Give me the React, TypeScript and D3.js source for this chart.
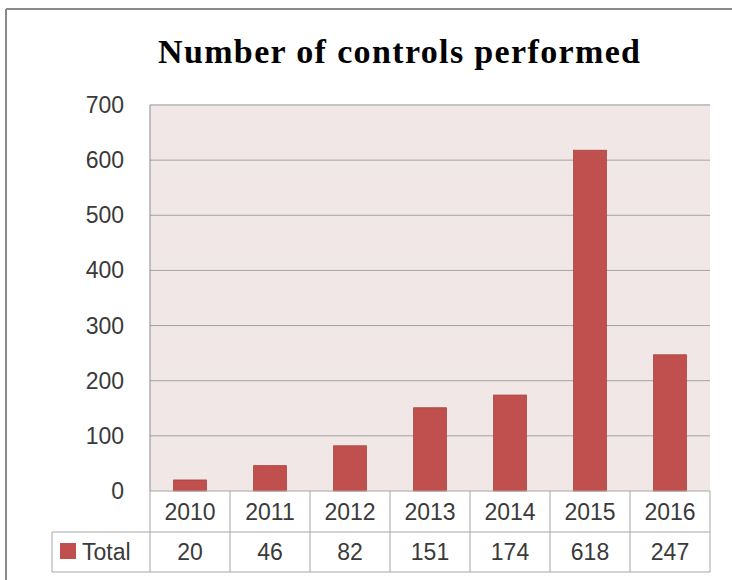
import React from "react";
import * as d3 from "d3";

const years = ["2010", "2011", "2012", "2013", "2014", "2015", "2016"];
const totals = [20, 46, 82, 151, 174, 618, 247];
const yTicks = [0, 100, 200, 300, 400, 500, 600, 700];
const seriesName = "Total";
const title = "Number of controls performed";

export default function App() {
  const W = 732, H = 580;
  const plot = { left: 150, right: 710, top: 105, bottom: 491 };
  const x = d3.scaleBand<string>().domain(years).range([plot.left, plot.right]).padding(0);
  const y = d3.scaleLinear().domain([0, 700]).range([plot.bottom, plot.top]);
  const bw = x.bandwidth() * 0.41;
  const row1 = 532, row2 = 572, tableLeft = 52;
  const sans = "'Liberation Sans', Arial, sans-serif";
  const gridColor = "#a3a3a3";
  const tableColor = "#a6a6a6";
  const fs = 23;
  return (
    <svg width={W} height={H} style={{ position: "absolute", left: 0, top: 0 }}>
      <rect x={0} y={0} width={W} height={H} fill="#fff" />
      {/* outer border */}
      <line x1={6} y1={9} x2={W} y2={9} stroke="#8a8a8a" strokeWidth={2} />
      <line x1={6} y1={9} x2={6} y2={H} stroke="#8a8a8a" strokeWidth={2} />
      <text x={158} y={63} textLength={482} lengthAdjust="spacing" fontFamily="'Liberation Serif', 'Times New Roman', serif" fontWeight="bold" fontSize={34} fill="#000">{title}</text>
      {/* plot area */}
      <rect x={plot.left} y={plot.top} width={plot.right - plot.left} height={plot.bottom - plot.top} fill="#f2e7e7" />
      {yTicks.map(t => (
        <g key={t}>
          {t > 0 && <line x1={plot.left} x2={plot.right} y1={y(t)} y2={y(t)} stroke={t === 700 ? "#c4c4c4" : gridColor} strokeWidth={t === 700 ? 2 : 1} />}
          <text x={124} y={y(t)} dy="0.35em" textAnchor="end" fontFamily={sans} fontSize={fs} fill="#3a3a3a">{t}</text>
        </g>
      ))}
      <line x1={plot.left} x2={plot.left} y1={plot.top} y2={plot.bottom} stroke="#8a8a8a" strokeWidth={1} />
      {years.map((yr, i) => (
        <rect key={yr} x={(x(yr) as number) + x.bandwidth() / 2 - bw / 2} y={y(totals[i])} width={bw} height={plot.bottom - y(totals[i])} fill="#c0504d" stroke="#a8423f" strokeWidth={0.8} />
      ))}
      {/* data table */}
      <line x1={plot.left} x2={plot.right} y1={plot.bottom} y2={plot.bottom} stroke={tableColor} />
      <line x1={tableLeft} x2={plot.right} y1={row1} y2={row1} stroke={tableColor} />
      <line x1={tableLeft} x2={plot.right} y1={row2} y2={row2} stroke={tableColor} />
      <line x1={tableLeft} x2={tableLeft} y1={row1} y2={row2} stroke={tableColor} />
      {[...years.map(yr => x(yr) as number), plot.right].map((vx, i) => (
        <line key={i} x1={vx} x2={vx} y1={plot.bottom} y2={row2} stroke={tableColor} />
      ))}
      {years.map((yr, i) => (
        <g key={yr}>
          <text x={(x(yr) as number) + x.bandwidth() / 2} y={(plot.bottom + row1) / 2} dy="0.35em" textAnchor="middle" fontFamily={sans} fontSize={fs} fill="#3a3a3a">{yr}</text>
          <text x={(x(yr) as number) + x.bandwidth() / 2} y={(row1 + row2) / 2} dy="0.35em" textAnchor="middle" fontFamily={sans} fontSize={fs} fill="#3a3a3a">{totals[i]}</text>
        </g>
      ))}
      <rect x={60} y={543} width={16} height={16} fill="#c0504d" />
      <text x={82} y={(row1 + row2) / 2} dy="0.35em" fontFamily={sans} fontSize={fs} fill="#3a3a3a">{seriesName}</text>
    </svg>
  );
}
